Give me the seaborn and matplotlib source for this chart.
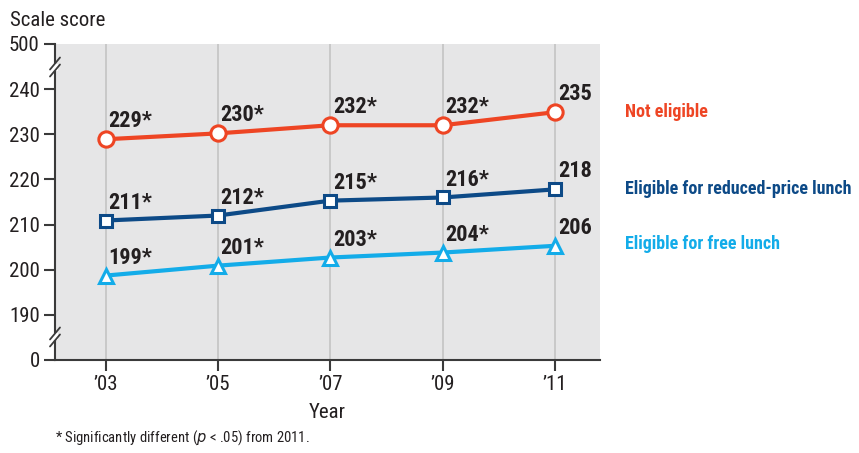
import numpy as np
import pandas as pd
import matplotlib
matplotlib.use("Agg")
import matplotlib.pyplot as plt
import seaborn as sns

# data
years = [2003, 2005, 2007, 2009, 2011]
year_labels = ["\u201903", "\u201905", "\u201907", "\u201909", "\u201911"]
not_eligible = [228.9, 230.2, 232.0, 232.0, 234.9]
reduced_price = [210.9, 212.0, 215.3, 216.0, 217.8]
free_lunch = [198.7, 200.9, 202.7, 203.8, 205.3]
not_eligible_lbl = ["229*", "230*", "232*", "232*", "235"]
reduced_price_lbl = ["211*", "212*", "215*", "216*", "218"]
free_lunch_lbl = ["199*", "201*", "203*", "204*", "206"]
groups = ["Not eligible", "Eligible for reduced-price lunch", "Eligible for free lunch"]
ytick_vals = [180, 190, 200, 210, 220, 230, 240, 250]
ytick_labels = ["0", "190", "200", "210", "220", "230", "240", "500"]

sns.set_style("white")
plt.rcParams["font.family"] = ["Roboto Condensed", "DejaVu Sans"]

ink = "#231F20"
red = "#EE4524"
navy = "#0D4A87"
sky = "#13ACE9"

fig = plt.figure(figsize=(8.59, 4.53), dpi=100)
ax = fig.add_axes([55 / 859, 1 - 360 / 453, 545 / 859, 316 / 453])
ax.set_facecolor("#E6E6E7")

df = pd.DataFrame({
    "year": years * 3,
    "score": not_eligible + reduced_price + free_lunch,
    "group": [groups[0]] * 5 + [groups[1]] * 5 + [groups[2]] * 5,
})

for x in years:
    ax.axvline(x, color="#C4C4C4", lw=1.2, zorder=0)

styles = [(groups[0], red, "o", 11), (groups[1], navy, "s", 9), (groups[2], sky, "^", 10)]
for g, c, m, ms in styles:
    sns.lineplot(data=df[df["group"] == g], x="year", y="score", ax=ax, color=c,
                 lw=3, marker=m, markersize=ms, markerfacecolor="white",
                 markeredgecolor=c, markeredgewidth=2.2, legend=False, zorder=3)

for vals, lbls in [(not_eligible, not_eligible_lbl), (reduced_price, reduced_price_lbl),
                   (free_lunch, free_lunch_lbl)]:
    for x, v, t in zip(years, vals, lbls):
        ax.annotate(t, (x, v), xytext=(2, 5), textcoords="offset points",
                    fontsize=16, fontweight="bold", color=ink, ha="left", va="bottom")

ax.set_xlim(2002.1, 2011.8)
ax.set_ylim(180, 250)
ax.set_xticks(years)
ax.set_xticklabels(year_labels, fontsize=15, color=ink)
ax.set_yticks(ytick_vals)
ax.set_yticklabels(ytick_labels, fontsize=15, color=ink)
ax.tick_params(axis="both", length=8, width=1.5, color="#3A3A3A", direction="out", pad=3,
               left=True, bottom=True)
ax.set_xlabel("Year", fontsize=15, color=ink, labelpad=6)
ax.set_ylabel("")

for s in ["top", "right"]:
    ax.spines[s].set_visible(False)
for s in ["left", "bottom"]:
    ax.spines[s].set_color("#3A3A3A")
    ax.spines[s].set_linewidth(1.5)

# axis break marks (double slash across the left spine)
px = 1 / 545
py = 1 / 316
for yb in [244.9, 185.1]:
    yf = (yb - 180) / 70
    ax.add_patch(plt.Rectangle((-3 * px, yf - 3.5 * py), 6 * px, 7 * py, transform=ax.transAxes,
                               facecolor="white", edgecolor="none", clip_on=False, zorder=5))
    for off in [-3.5, 3.5]:
        ax.plot([-5 * px, 5 * px], [yf + (off - 6) * py, yf + (off + 6) * py],
                transform=ax.transAxes, color="#3A3A3A", lw=1.3, clip_on=False, zorder=6)

fig.text(10 / 859, 1 - 20 / 453, "Scale score", fontsize=15, color=ink, va="center")

label_y = [112, 189, 244]
for g, c, yy in zip(groups, [red, navy, sky], label_y):
    fig.text(625 / 859, 1 - yy / 453, g, fontsize=13, fontweight="bold", color=c, va="center")

fig.text(55 / 859, 1 - 438 / 453, "* Significantly different ($\\it{p}$ < .05) from 2011.",
         fontsize=10.5, color=ink, va="center")

fig.savefig("out.png", dpi=100)
